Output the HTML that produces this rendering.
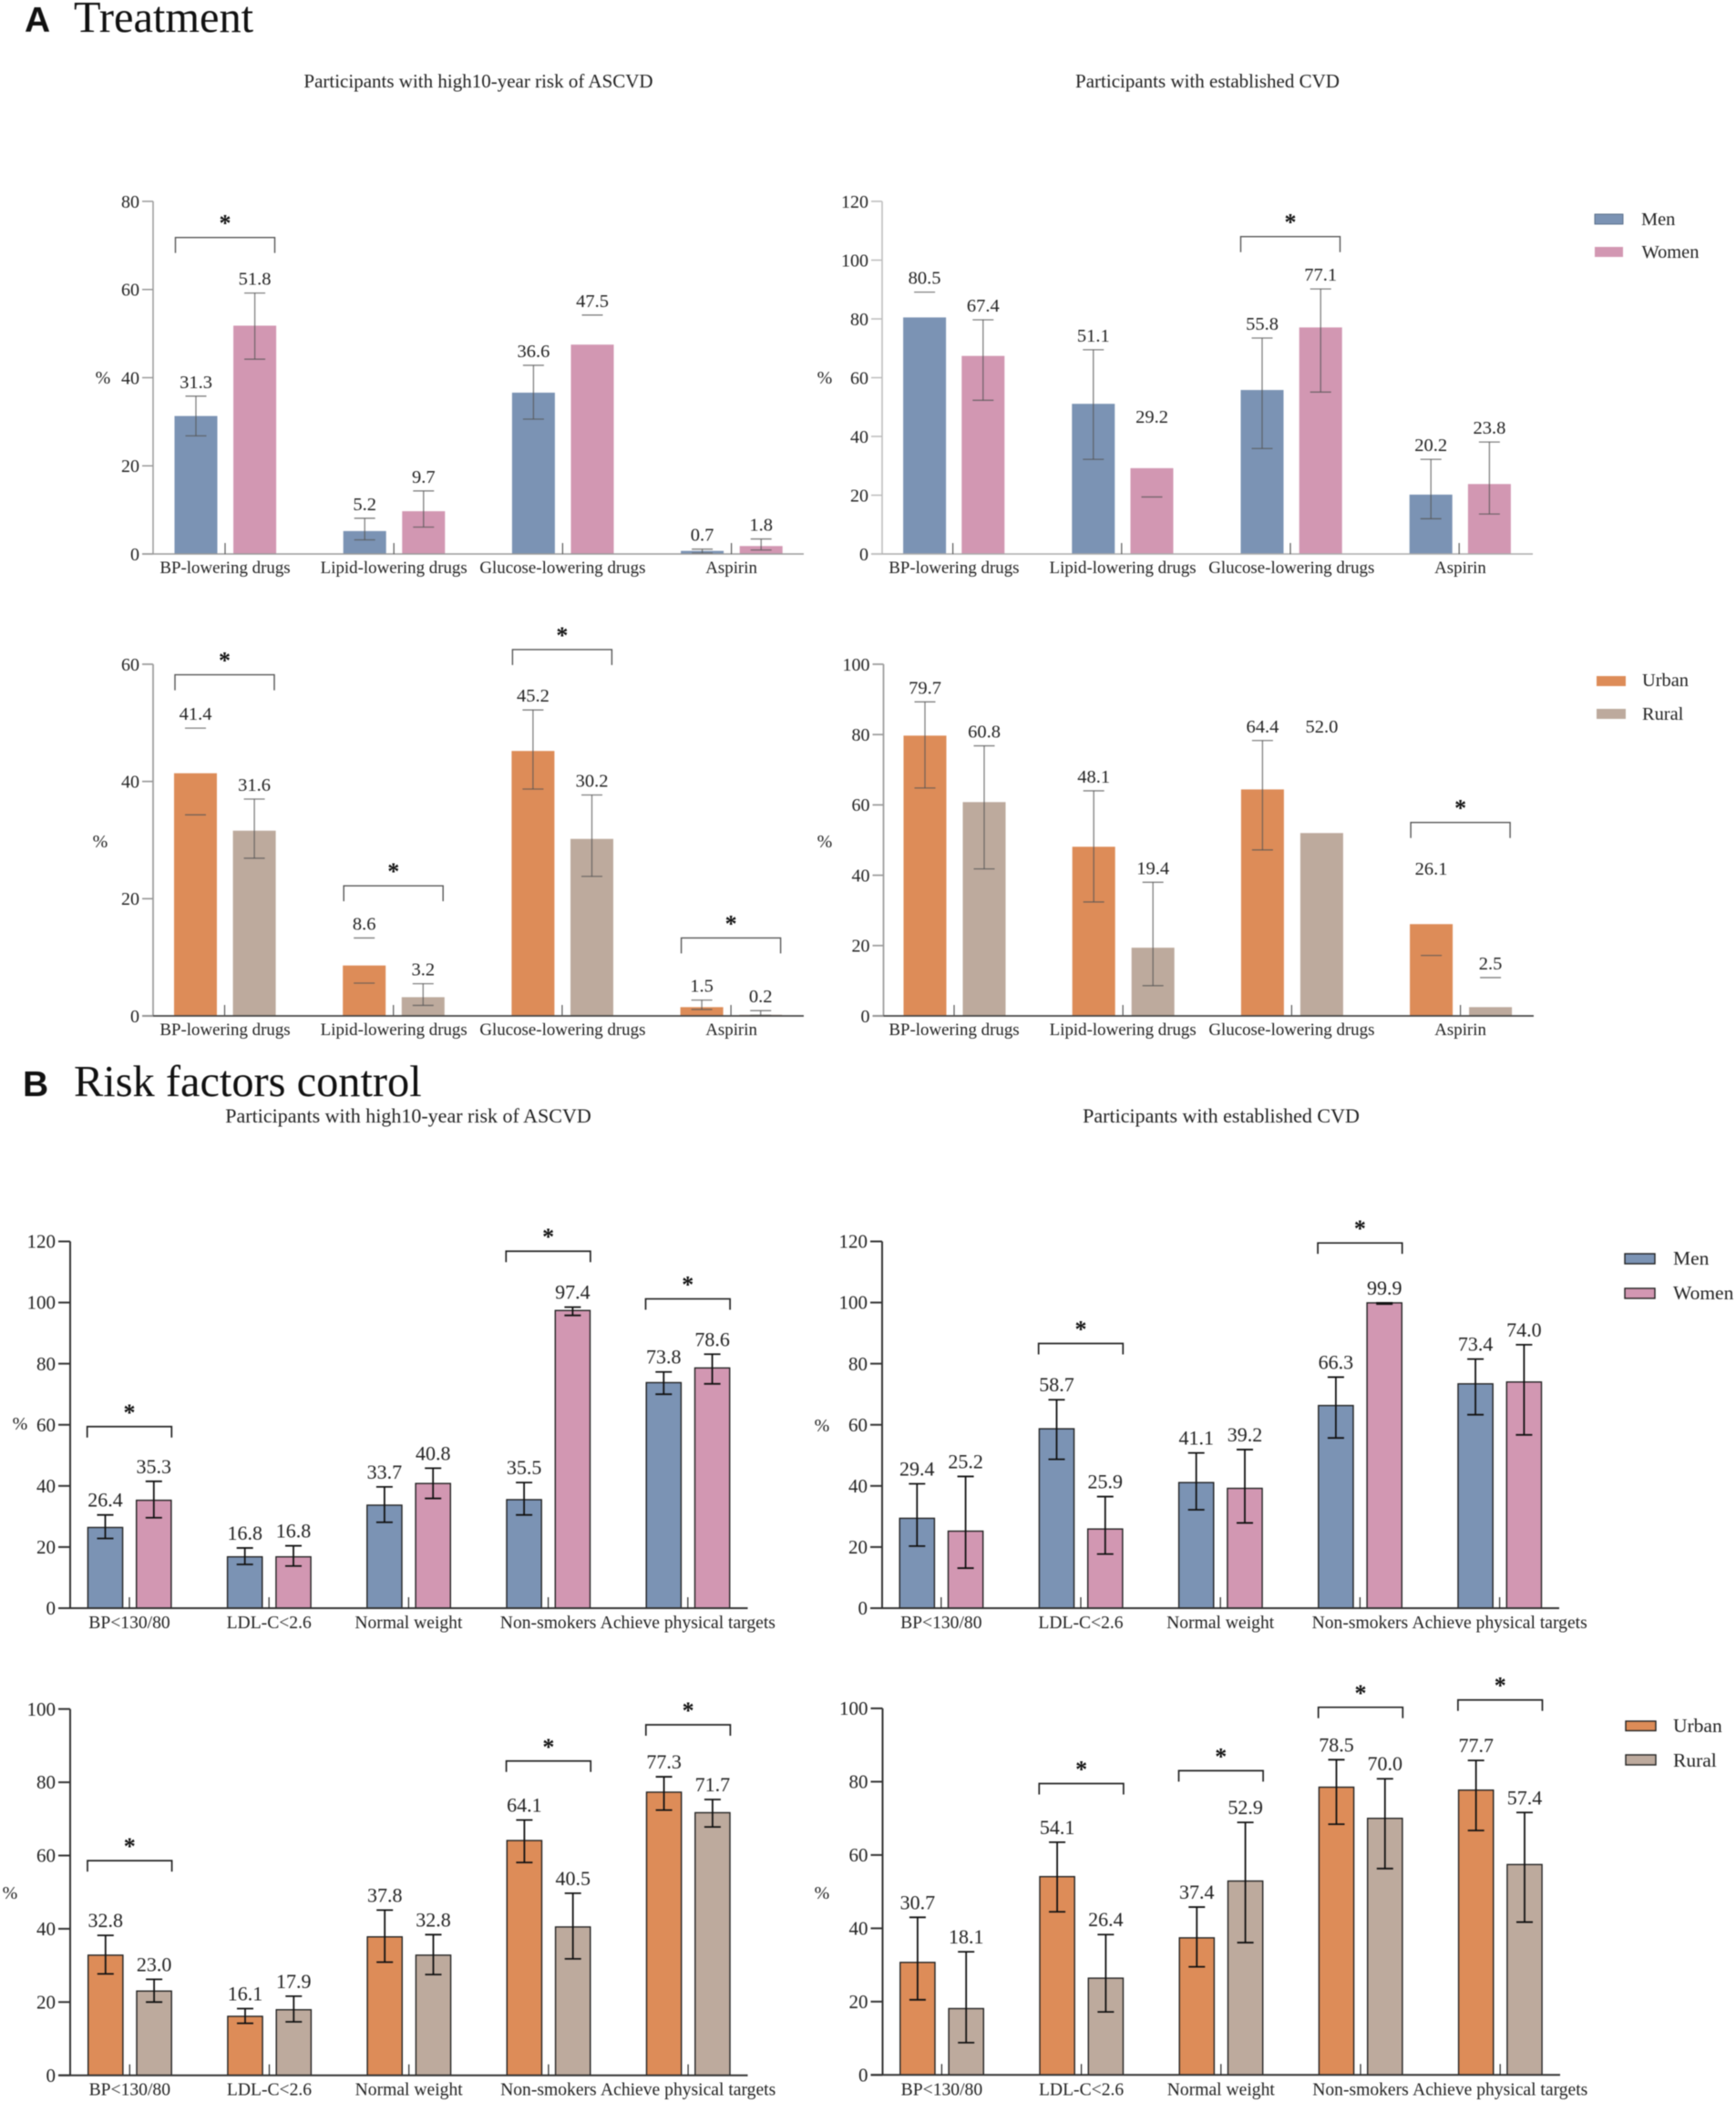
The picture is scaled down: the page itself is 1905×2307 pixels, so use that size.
<!DOCTYPE html>
<html lang="en">
<head>
<meta charset="utf-8">
<title>Treatment and risk factors control</title>
<style>
  html, body { margin: 0; padding: 0; background: #fff; }
  #figure { display: block; width: 1905px; height: 2307px; filter: blur(0.4px); }
  text { font-family: "Liberation Serif", serif; fill: #222; }
  .head-letter { font-family: "Liberation Sans", sans-serif; font-weight: bold; font-size: 39px; fill: #111; }
  .head-title { font-size: 48.4px; fill: #111; }
  .title-a { font-size: 21px; text-anchor: middle; }
  .title-b { font-size: 22px; text-anchor: middle; }
  .legend-a { font-size: 20.4px; }
  .legend-b { font-size: 21.5px; }
  .unit { font-size: 20px; text-anchor: middle; }
</style>
</head>
<body>
<svg id="figure" xmlns="http://www.w3.org/2000/svg" width="1905" height="2307" viewBox="0 0 1905 2307">
  <rect width="1905" height="2307" fill="#fff"/>

  <text class="head-letter" x="27" y="35">A</text>
  <text class="head-title" x="81" y="35">Treatment</text>
  <text class="head-letter" x="25" y="1203">B</text>
  <text class="head-title" x="81" y="1203">Risk factors control</text>

  <text class="title-a" x="525" y="96">Participants with high10-year risk of ASCVD</text>
  <text class="title-a" x="1325" y="96">Participants with established CVD</text>
  <text class="title-b" x="448" y="1232">Participants with high10-year risk of ASCVD</text>
  <text class="title-b" x="1340" y="1232">Participants with established CVD</text>

  <text class="unit" x="113" y="421">%</text>
  <text class="unit" x="905" y="421">%</text>
  <text class="unit" x="110" y="930">%</text>
  <text class="unit" x="905" y="930">%</text>
  <text class="unit" x="22" y="1569">%</text>
  <text class="unit" x="902" y="1571">%</text>
  <text class="unit" x="11" y="2084">%</text>
  <text class="unit" x="902" y="2084">%</text>

  <g>
    <rect x="1750" y="235" width="31" height="11" fill="#7b93b4" stroke="#4a5f7c" stroke-width="0.8"/>
    <text class="legend-a" x="1801" y="247">Men</text>
    <rect x="1750" y="271" width="31" height="11" fill="#d297b2"/>
    <text class="legend-a" x="1801.5" y="283">Women</text>
  </g>
  <g>
    <rect x="1752" y="742" width="32" height="11" fill="#dd8c58"/>
    <text class="legend-a" x="1802" y="753">Urban</text>
    <rect x="1752" y="778" width="32" height="11" fill="#bdaa9d"/>
    <text class="legend-a" x="1802" y="790">Rural</text>
  </g>
  <g>
    <rect x="1783" y="1376" width="33" height="11" fill="#7b93b4" stroke="#222" stroke-width="1.4"/>
    <text class="legend-b" x="1836" y="1388">Men</text>
    <rect x="1783" y="1414" width="33" height="11" fill="#d297b2" stroke="#222" stroke-width="1.4"/>
    <text class="legend-b" x="1836" y="1426">Women</text>
  </g>
  <g>
    <rect x="1784" y="1889" width="33" height="10.5" fill="#dd8c58" stroke="#222" stroke-width="1.4"/>
    <text class="legend-b" x="1836" y="1901">Urban</text>
    <rect x="1784" y="1926" width="33" height="11" fill="#bdaa9d" stroke="#222" stroke-width="1.4"/>
    <text class="legend-b" x="1836" y="1939">Rural</text>
  </g>

  <g id="panel-a1"></g>
  <g id="panel-a2"></g>
  <g id="panel-a3"></g>
  <g id="panel-a4"></g>
  <g id="panel-b1"></g>
  <g id="panel-b2"></g>
  <g id="panel-b3"></g>
  <g id="panel-b4"></g>
</svg>

<script>
// ---------- categories ----------
const treatmentCategories = ['BP-lowering drugs', 'Lipid-lowering drugs', 'Glucose-lowering drugs', 'Aspirin'];
const riskCategories = ['BP<130/80', 'LDL-C<2.6', 'Normal weight', 'Non-smokers', 'Achieve physical targets'];

// ---------- A1: treatment, high 10-year risk, men vs women ----------
const a1Ticks = [0, 20, 40, 60, 80];
const a1Men = [31.3, 5.2, 36.6, 0.7];
const a1MenHigh = [35.8, 8.1, 42.8, 1.1];
const a1MenLow = [26.8, 3.2, 30.6, 0.2];
const a1Women = [51.8, 9.7, 47.5, 1.8];
const a1WomenHigh = [59.2, 14.3, 54.2, 3.4];
const a1WomenLow = [44.2, 6.1, null, 0.9];
const a1BracketGroups = [0];
const a1BracketLevels = [71.8];

// ---------- A2: treatment, established CVD, men vs women ----------
const a2Ticks = [0, 20, 40, 60, 80, 100, 120];
const a2Men = [80.5, 51.1, 55.8, 20.2];
const a2MenHigh = [89.1, 69.5, 73.5, 32.2];
const a2MenLow = [null, 32.2, 35.9, 12];
const a2Women = [67.4, 29.2, 77.1, 23.8];
const a2WomenHigh = [79.7, 41.8, 90.2, 38.1];
const a2WomenLow = [52.3, 19.4, 55.1, 13.6];
const a2HiddenUpper = ['1-1'];
const a2BracketGroups = [2];
const a2BracketLevels = [108];

// ---------- A3: treatment, high 10-year risk, urban vs rural ----------
const a3Ticks = [0, 20, 40, 60];
const a3Urban = [41.4, 8.6, 45.2, 1.5];
const a3UrbanHigh = [49.1, 13.3, 52.2, 2.7];
const a3UrbanLow = [34.3, 5.6, 38.7, 1.1];
const a3Rural = [31.6, 3.2, 30.2, 0.2];
const a3RuralHigh = [37, 5.5, 37.7, 0.9];
const a3RuralLow = [26.9, 1.8, 23.8, 0.1];
const a3NoStem = ['0-0', '0-1'];
const a3BracketGroups = [0, 1, 2, 3];
const a3BracketLevels = [58.2, 22.2, 62.5, 13.3];

// ---------- A4: treatment, established CVD, urban vs rural ----------
const a4Ticks = [0, 20, 40, 60, 80, 100];
const a4Urban = [79.7, 48.1, 64.4, 26.1];
const a4UrbanHigh = [89.3, 64, 78.3, 37.8];
const a4UrbanLow = [64.8, 32.4, 47.2, 17.2];
const a4Rural = [60.8, 19.4, 52.0, 2.5];
const a4RuralHigh = [76.8, 38, 78.3, 10.9];
const a4RuralLow = [41.8, 8.6, null, null];
const a4HiddenUpper = ['0-3', '1-2'];
const a4BracketGroups = [3];
const a4BracketLevels = [55];

// ---------- B1: risk factors, high 10-year risk, men vs women ----------
const b1Ticks = [0, 20, 40, 60, 80, 100, 120];
const b1Men = [26.4, 16.8, 33.7, 35.5, 73.8];
const b1MenHigh = [30.5, 19.7, 39.7, 41.1, 77.3];
const b1MenLow = [22.8, 14.3, 28.1, 30.5, 70];
const b1Women = [35.3, 16.8, 40.8, 97.4, 78.6];
const b1WomenHigh = [41.5, 20.4, 45.8, 98.5, 83.1];
const b1WomenLow = [29.6, 13.8, 35.9, 95.8, 73.4];
const b1BracketGroups = [0, 3, 4];
const b1BracketLevels = [59.4, 116.8, 101.2];

// ---------- B2: risk factors, established CVD, men vs women ----------
const b2Ticks = [0, 20, 40, 60, 80, 100, 120];
const b2Men = [29.4, 58.7, 41.1, 66.3, 73.4];
const b2MenHigh = [40.7, 68.2, 50.8, 75.6, 81.5];
const b2MenLow = [20.3, 48.7, 32.2, 55.7, 63.3];
const b2Women = [25.2, 25.9, 39.2, 99.9, 74.0];
const b2WomenHigh = [43.1, 36.5, 51.9, 99.9, 86.2];
const b2WomenLow = [13.1, 17.7, 27.9, 99.5, 56.7];
const b2BracketGroups = [1, 3];
const b2BracketLevels = [86.6, 119.5];

// ---------- B3: risk factors, high 10-year risk, urban vs rural ----------
const b3Ticks = [0, 20, 40, 60, 80, 100];
const b3Urban = [32.8, 16.1, 37.8, 64.1, 77.3];
const b3UrbanHigh = [38.2, 18.2, 45.1, 69.7, 81.5];
const b3UrbanLow = [27.7, 14.2, 30.9, 58.1, 72.4];
const b3Rural = [23.0, 17.9, 32.8, 40.5, 71.7];
const b3RuralHigh = [26.2, 21.6, 38.4, 49.7, 75.3];
const b3RuralLow = [20, 14.6, 27.5, 31.8, 67.8];
const b3BracketGroups = [0, 3, 4];
const b3BracketLevels = [58.6, 85.8, 95.7];

// ---------- B4: risk factors, established CVD, urban vs rural ----------
const b4Ticks = [0, 20, 40, 60, 80, 100];
const b4Urban = [30.7, 54.1, 37.4, 78.5, 77.7];
const b4UrbanHigh = [43, 63.5, 45.8, 86, 85.8];
const b4UrbanLow = [20.5, 44.5, 29.5, 68.4, 66.7];
const b4Rural = [18.1, 26.4, 52.9, 70.0, 57.4];
const b4RuralHigh = [33.6, 38.3, 68.9, 80.8, 71.6];
const b4RuralLow = [8.8, 17.2, 36.1, 56.3, 41.7];
const b4BracketGroups = [1, 2, 3, 4];
const b4BracketLevels = [79.5, 83, 100.3, 102.3];

// ---------- rendering ----------
const SVG_NS = 'http://www.w3.org/2000/svg';
const MEN_COLOR = '#7b93b4', WOMEN_COLOR = '#d297b2', URBAN_COLOR = '#dd8c58', RURAL_COLOR = '#bdaa9d';

function shape(parent, tag, attrs, content) {
  const el = document.createElementNS(SVG_NS, tag);
  Object.keys(attrs).forEach(function (k) { el.setAttribute(k, attrs[k]); });
  if (content !== undefined) el.textContent = content;
  parent.appendChild(el);
  return el;
}

function fmt(v) { return v.toFixed(1); }

function drawPanel(cfg) {
  const root = document.getElementById(cfg.id);
  const yScale = function (v) { return cfg.yBase - (v / cfg.yMax) * (cfg.yBase - cfg.yTop); };
  const xGroup = function (i) { return cfg.first + i * cfg.step; };
  const st = cfg.style;

  cfg.series.forEach(function (s, si) {
    s.values.forEach(function (v, gi) {
      const cx = xGroup(gi) + cfg.offsets[si];
      const cat = cfg.categories[gi].toLowerCase().replace(/[^a-z0-9]+/g, '-');
      const bar = shape(root, 'rect', {
        x: cx - cfg.barWidth / 2, y: yScale(v), width: cfg.barWidth, height: cfg.yBase - yScale(v),
        fill: s.color, stroke: st.barStroke, 'stroke-width': st.barStrokeWidth
      });
      
      

      const hi = s.high[gi], lo = s.low[gi];
      const key = si + '-' + gi;
      const upperHidden = (cfg.hiddenUpper || []).indexOf(key) >= 0;
      const stemHidden = (cfg.noStem || []).indexOf(key) >= 0;
      if (!upperHidden && !stemHidden && lo !== null) {
        const stem = shape(root, 'line', { x1: cx, x2: cx, y1: yScale(hi), y2: yScale(lo), stroke: st.errColor, 'stroke-width': st.errWidth, opacity: st.errOpacity });
        
        
      }
      if (!upperHidden) {
        const capHigh = shape(root, 'line', { x1: cx - cfg.capHalf, x2: cx + cfg.capHalf, y1: yScale(hi), y2: yScale(hi), stroke: st.errColor, 'stroke-width': st.errWidth, opacity: st.errOpacity });
        
        
      }
      if (lo !== null) {
        const capLow = shape(root, 'line', { x1: cx - cfg.capHalf, x2: cx + cfg.capHalf, y1: yScale(lo), y2: yScale(lo), stroke: st.errColor, 'stroke-width': st.errWidth, opacity: st.errOpacity });
        
        
      }
      const valueLabel = shape(root, 'text', { x: cx, y: yScale(hi) - 9, 'text-anchor': 'middle', 'font-size': cfg.valueFont }, fmt(v));
      
      
    });
  });

  const yAxis = shape(root, 'line', { x1: cfg.x0, x2: cfg.x0, y1: cfg.yTop, y2: cfg.yBase, stroke: st.yAxisColor, 'stroke-width': st.axisWidth });
  
  

  const xAxis = shape(root, 'line', { x1: cfg.x0 - cfg.tickLen, x2: cfg.right, y1: cfg.yBase, y2: cfg.yBase, stroke: st.xAxisColor, 'stroke-width': st.axisWidth });
  
  

  cfg.ticks.forEach(function (t) {
    const tick = shape(root, 'line', { x1: cfg.x0 - cfg.tickLen, x2: cfg.x0, y1: yScale(t), y2: yScale(t), stroke: st.yAxisColor, 'stroke-width': st.axisWidth });
    
    
    const tickLabel = shape(root, 'text', { x: cfg.x0 - cfg.tickLen - 3, y: yScale(t) + cfg.tickFont * 0.34, 'text-anchor': 'end', 'font-size': cfg.tickFont }, String(t));
    
    
  });

  cfg.categories.forEach(function (c, gi) {
    const cat = c.toLowerCase().replace(/[^a-z0-9]+/g, '-');
    const groupTick = shape(root, 'line', { x1: xGroup(gi), x2: xGroup(gi), y1: cfg.yBase - 12, y2: cfg.yBase, stroke: st.groupTickColor, 'stroke-width': 1.2 });
    
    
    const catLabel = shape(root, 'text', { x: xGroup(gi) + (cfg.labelShift || 0), y: cfg.yBase + cfg.labelDrop, 'text-anchor': 'middle', 'font-size': cfg.labelFont }, c);
    
    
  });

  cfg.bracketGroups.forEach(function (g, i) {
    const yb = yScale(cfg.bracketLevels[i]);
    const xc = xGroup(g);
    const bracket = shape(root, 'path', {
      d: 'M' + (xc - cfg.bracketHalf) + ' ' + (yb + cfg.bracketDrop) + 'V' + yb + 'H' + (xc + cfg.bracketHalf) + 'V' + (yb + cfg.bracketDrop),
      fill: 'none', stroke: st.bracketColor, 'stroke-width': st.bracketWidth
    });
    
    
    const star = shape(root, 'text', { x: xc, y: yb - 7, 'text-anchor': 'middle', 'font-size': 26, 'font-weight': 'bold', style: 'fill:#111' }, '*');
    
    
  });
}

const treatLight = { barStroke: 'none', barStrokeWidth: 0, errColor: '#555', errWidth: 1.3, errOpacity: 0.75, yAxisColor: '#999', xAxisColor: '#999', axisWidth: 1.5, groupTickColor: '#555', bracketColor: '#555', bracketWidth: 1.4 };
const treatDark = { barStroke: 'none', barStrokeWidth: 0, errColor: '#555', errWidth: 1.3, errOpacity: 0.75, yAxisColor: '#999', xAxisColor: '#444', axisWidth: 1.7, groupTickColor: '#555', bracketColor: '#555', bracketWidth: 1.4 };
const riskStyle = { barStroke: '#222', barStrokeWidth: 1.4, errColor: '#111', errWidth: 1.8, errOpacity: 1, yAxisColor: '#333', xAxisColor: '#333', axisWidth: 2, groupTickColor: '#222', bracketColor: '#222', bracketWidth: 1.7 };

const treatGeom = { offsets: [-32, 32.6], barWidth: 47, capHalf: 11.5, step: 185.2, tickLen: 12, right: 882, bracketHalf: 54.5, bracketDrop: 17, valueFont: 20.5, tickFont: 20, labelFont: 18.9, labelDrop: 21 };
const riskGeom = { offsets: [-26.5, 26.8], barWidth: 38.2, capHalf: 9, step: 153.2, tickLen: 13, right: 820.5, bracketHalf: 46.3, bracketDrop: 12, valueFont: 22, tickFont: 21, labelFont: 19.6, labelDrop: 22 };

drawPanel(Object.assign({}, treatGeom, {
  id: 'panel-a1', x0: 168, yTop: 221, yBase: 608, yMax: 80, first: 247, ticks: a1Ticks, categories: treatmentCategories, style: treatLight,
  series: [
    { name: 'men', color: MEN_COLOR, values: a1Men, high: a1MenHigh, low: a1MenLow },
    { name: 'women', color: WOMEN_COLOR, values: a1Women, high: a1WomenHigh, low: a1WomenLow }
  ],
  bracketGroups: a1BracketGroups, bracketLevels: a1BracketLevels
}));
drawPanel(Object.assign({}, treatGeom, {
  id: 'panel-a2', x0: 968, yTop: 221, yBase: 608, yMax: 120, first: 1045.6, labelShift: 1.3, right: 1682, offsets: [-31, 33.2], ticks: a2Ticks, categories: treatmentCategories,
  style: Object.assign({}, treatLight, { yAxisColor: '#bbb', xAxisColor: '#aaa' }),
  series: [
    { name: 'men', color: MEN_COLOR, values: a2Men, high: a2MenHigh, low: a2MenLow },
    { name: 'women', color: WOMEN_COLOR, values: a2Women, high: a2WomenHigh, low: a2WomenLow }
  ],
  hiddenUpper: a2HiddenUpper, bracketGroups: a2BracketGroups, bracketLevels: a2BracketLevels
}));
drawPanel(Object.assign({}, treatGeom, {
  id: 'panel-a3', x0: 168, yTop: 729, yBase: 1115, yMax: 60, first: 246.5, labelShift: 0.5, ticks: a3Ticks, categories: treatmentCategories, style: treatDark,
  series: [
    { name: 'urban', color: URBAN_COLOR, values: a3Urban, high: a3UrbanHigh, low: a3UrbanLow },
    { name: 'rural', color: RURAL_COLOR, values: a3Rural, high: a3RuralHigh, low: a3RuralLow }
  ],
  noStem: a3NoStem, bracketGroups: a3BracketGroups, bracketLevels: a3BracketLevels
}));
drawPanel(Object.assign({}, treatGeom, {
  id: 'panel-a4', x0: 969.5, yTop: 729, yBase: 1115, yMax: 100, first: 1047, right: 1683, offsets: [-32, 33], ticks: a4Ticks, categories: treatmentCategories, style: treatDark,
  series: [
    { name: 'urban', color: URBAN_COLOR, values: a4Urban, high: a4UrbanHigh, low: a4UrbanLow },
    { name: 'rural', color: RURAL_COLOR, values: a4Rural, high: a4RuralHigh, low: a4RuralLow }
  ],
  hiddenUpper: a4HiddenUpper, bracketGroups: a4BracketGroups, bracketLevels: a4BracketLevels
}));
drawPanel(Object.assign({}, riskGeom, {
  id: 'panel-b1', x0: 77, yTop: 1362.5, yBase: 1765, yMax: 120, first: 142, ticks: b1Ticks, categories: riskCategories, style: riskStyle,
  series: [
    { name: 'men', color: MEN_COLOR, values: b1Men, high: b1MenHigh, low: b1MenLow },
    { name: 'women', color: WOMEN_COLOR, values: b1Women, high: b1WomenHigh, low: b1WomenLow }
  ],
  bracketGroups: b1BracketGroups, bracketLevels: b1BracketLevels
}));
drawPanel(Object.assign({}, riskGeom, {
  id: 'panel-b2', x0: 968, yTop: 1362.5, yBase: 1765, yMax: 120, first: 1032.8, right: 1711, ticks: b2Ticks, categories: riskCategories, style: riskStyle,
  series: [
    { name: 'men', color: MEN_COLOR, values: b2Men, high: b2MenHigh, low: b2MenLow },
    { name: 'women', color: WOMEN_COLOR, values: b2Women, high: b2WomenHigh, low: b2WomenLow }
  ],
  bracketGroups: b2BracketGroups, bracketLevels: b2BracketLevels
}));
drawPanel(Object.assign({}, riskGeom, {
  id: 'panel-b3', x0: 77, yTop: 1875.7, yBase: 2277.7, yMax: 100, first: 142.3, ticks: b3Ticks, categories: riskCategories, style: riskStyle,
  series: [
    { name: 'urban', color: URBAN_COLOR, values: b3Urban, high: b3UrbanHigh, low: b3UrbanLow },
    { name: 'rural', color: RURAL_COLOR, values: b3Rural, high: b3RuralHigh, low: b3RuralLow }
  ],
  bracketGroups: b3BracketGroups, bracketLevels: b3BracketLevels
}));
drawPanel(Object.assign({}, riskGeom, {
  id: 'panel-b4', x0: 968.5, yTop: 1875, yBase: 2277.3, yMax: 100, first: 1033.4, right: 1712, ticks: b4Ticks, categories: riskCategories, style: riskStyle,
  series: [
    { name: 'urban', color: URBAN_COLOR, values: b4Urban, high: b4UrbanHigh, low: b4UrbanLow },
    { name: 'rural', color: RURAL_COLOR, values: b4Rural, high: b4RuralHigh, low: b4RuralLow }
  ],
  bracketGroups: b4BracketGroups, bracketLevels: b4BracketLevels
}));
</script>
</body>
</html>
